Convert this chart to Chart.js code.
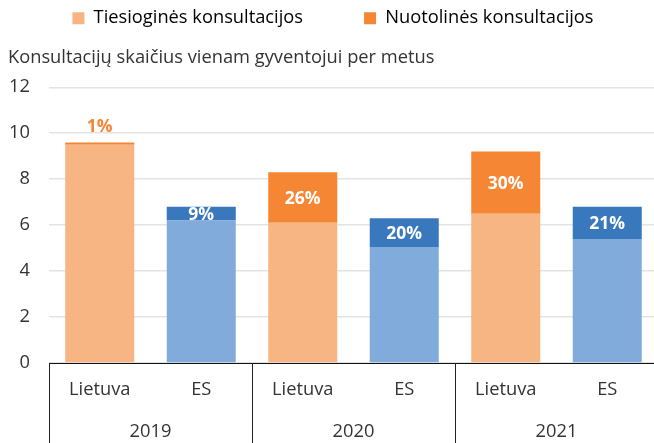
<!DOCTYPE html>
<html>
<head>
<meta charset="utf-8">
<script src="https://cdn.jsdelivr.net/npm/chart.js@4.4.0/dist/chart.umd.min.js"></script>
<style>
  html, body { margin: 0; padding: 0; background: #fff; overflow: hidden; }
  #wrap { width: 662px; height: 443px; }
</style>
</head>
<body>
<div id="wrap"><canvas id="c" width="662" height="443"></canvas></div>
<script>
// ---- data ----
const categories = ['Lietuva', 'ES', 'Lietuva', 'ES', 'Lietuva', 'ES'];
const years = ['2019', '2020', '2021'];
const directValues = [9.5, 6.2, 6.1, 5.05, 6.5, 5.4];
const remoteValues = [0.1, 0.6, 2.2, 1.25, 2.7, 1.4];
const remoteShareLabels = ['1%', '9%', '26%', '20%', '30%', '21%'];
const seriesNames = ['Tiesioginės konsultacijos', 'Nuotolinės konsultacijos'];
const axisTitle = 'Konsultacijų skaičius vienam gyventojui per metus';

// ---- styles ----
const LT_LIGHT = '#F7B583', LT_DARK = '#F58634';
const ES_LIGHT = '#80ABDA', ES_DARK = '#3A78BD';
const FONT = '"Open Sans"';
const FS = 18.3;
const TEXT = '#333333';

const directColors = categories.map(c => c === 'Lietuva' ? LT_LIGHT : ES_LIGHT);
const remoteColors = categories.map(c => c === 'Lietuva' ? LT_DARK : ES_DARK);

const groupPlugin = {
  id: 'groupAxis',
  afterDraw(chart) {
    const { ctx, chartArea, scales } = chart;
    const x = scales.x;
    const step = (chartArea.right - chartArea.left) / categories.length;
    ctx.save();
    ctx.strokeStyle = '#222';
    ctx.lineWidth = 1;
    for (let g = 0; g <= years.length; g++) {
      const px = Math.round(x.getPixelForValue(g * 2) - step / 2) + 0.5;
      ctx.beginPath();
      ctx.moveTo(px, chartArea.bottom);
      ctx.lineTo(px, chart.height);
      ctx.stroke();
    }
    ctx.fillStyle = TEXT;
    ctx.font = FS + 'px ' + FONT;
    ctx.textAlign = 'center';
    ctx.textBaseline = 'middle';
    years.forEach((yr, g) => {
      const cx = (x.getPixelForValue(g * 2) + x.getPixelForValue(g * 2 + 1)) / 2;
      ctx.fillText(yr, cx, chartArea.bottom + 69);
    });
    ctx.restore();
  }
};

const labelPlugin = {
  id: 'shareLabels',
  afterDatasetsDraw(chart) {
    const { ctx } = chart;
    const meta = chart.getDatasetMeta(1);
    ctx.save();
    ctx.font = 'bold 17.5px ' + FONT;
    ctx.textAlign = 'center';
    ctx.textBaseline = 'middle';
    meta.data.forEach((bar, i) => {
      const h = bar.base - bar.y;
      if (h < 5) {
        ctx.fillStyle = remoteColors[i];
        ctx.fillText(remoteShareLabels[i], bar.x, bar.y - 15);
      } else {
        ctx.fillStyle = '#ffffff';
        ctx.fillText(remoteShareLabels[i], bar.x, (bar.y + bar.base) / 2 + 1);
      }
    });
    ctx.restore();
  }
};

new Chart(document.getElementById('c'), {
  type: 'bar',
  data: {
    labels: categories,
    datasets: [
      { label: seriesNames[0], data: directValues, backgroundColor: directColors,
        barPercentage: 0.68, categoryPercentage: 1 },
      { label: seriesNames[1], data: remoteValues, backgroundColor: remoteColors,
        barPercentage: 0.68, categoryPercentage: 1 }
    ]
  },
  options: {
    responsive: false,
    animation: false,
    devicePixelRatio: 1,
    layout: { padding: { left: 8, right: 4, top: -52, bottom: 0 } },
    plugins: {
      tooltip: { enabled: false },
      legend: {
        position: 'top',
        weight: 1000,
        labels: {
          color: TEXT,
          font: { family: FONT, size: FS },
          boxWidth: 12,
          boxHeight: 12,
          padding: 61,
          generateLabels: () => [
            { text: seriesNames[0], fillStyle: LT_LIGHT, strokeStyle: LT_LIGHT, lineWidth: 0, datasetIndex: 0 },
            { text: seriesNames[1], fillStyle: LT_DARK, strokeStyle: LT_DARK, lineWidth: 0, datasetIndex: 1 }
          ]
        }
      },
      title: {
        display: true,
        text: axisTitle,
        align: 'start',
        position: 'top',
        weight: 500,
        color: TEXT,
        font: { family: FONT, size: FS, weight: 'normal' },
        padding: { top: 10, bottom: 18 }
      }
    },
    scales: {
      x: {
        stacked: true,
        grid: { display: false },
        border: { display: true, color: '#111', width: 1 },
        ticks: { color: TEXT, font: { family: FONT, size: FS }, padding: 8, maxRotation: 0 },
        afterFit: s => { s.height = 80; }
      },
      y: {
        stacked: true,
        min: 0,
        max: 12,
        ticks: { stepSize: 2, color: TEXT, font: { family: FONT, size: FS }, padding: 19 },
        grid: { color: '#E3E3E3', lineWidth: 1.5, drawTicks: false },
        border: { display: false },
        afterFit: s => { s.width = 41; }
      }
    }
  },
  plugins: [groupPlugin, labelPlugin]
});
</script>
</body>
</html>
